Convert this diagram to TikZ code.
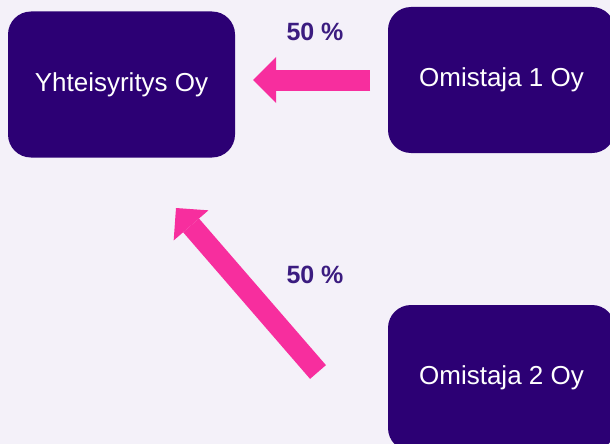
\documentclass[tikz,border=0pt]{standalone}
\usepackage{fontspec}
\setmainfont{Liberation Sans}
\usetikzlibrary{arrows.meta}
\definecolor{bgc}{HTML}{F4F1F9}
\definecolor{boxc}{HTML}{2C0074}
\definecolor{pinkc}{HTML}{F72E9E}
\definecolor{labc}{HTML}{3B1C80}
\tikzset{
  company/.style={fill=boxc, rounded corners=23pt, minimum width=227pt, minimum height=146pt,
    inner sep=0pt, text=white, font=\fontsize{26}{30}\selectfont},
  share/.style={text=labc, font=\bfseries\fontsize{25}{30}\selectfont, inner sep=0pt},
  owns/.style={draw=pinkc, line width=21pt, line cap=butt,
    -{Triangle[length=23pt, width=46pt, fill=pinkc, line width=0pt]}}
}
\begin{document}
\begin{tikzpicture}[x=1pt, y=-1pt]
\useasboundingbox (0,0) rectangle (610,444);
\fill[bgc] (0,0) rectangle (610,444);
\begin{scope}
\clip (0,0) rectangle (610,444);
\node[company] (jv) at (121.5,84.5) {Yhteisyritys Oy};
\node[company] (o1) at (501.5,80) {Omistaja 1 Oy};
\node[company] (o2) at (501.5,378) {Omistaja 2 Oy};
\end{scope}
\coordinate (a1s) at (370,80);
\coordinate (a1e) at (253,80);
\coordinate (a2s) at (318,372);
\coordinate (a2e) at (176,208);
\draw[owns] (a1s) -- (a1e);
\draw[owns] (a2s) -- (a2e);
\node[share] (l1) at (315,32) {50 \%};
\node[share] (l2) at (315,275) {50 \%};
\end{tikzpicture}
\end{document}
